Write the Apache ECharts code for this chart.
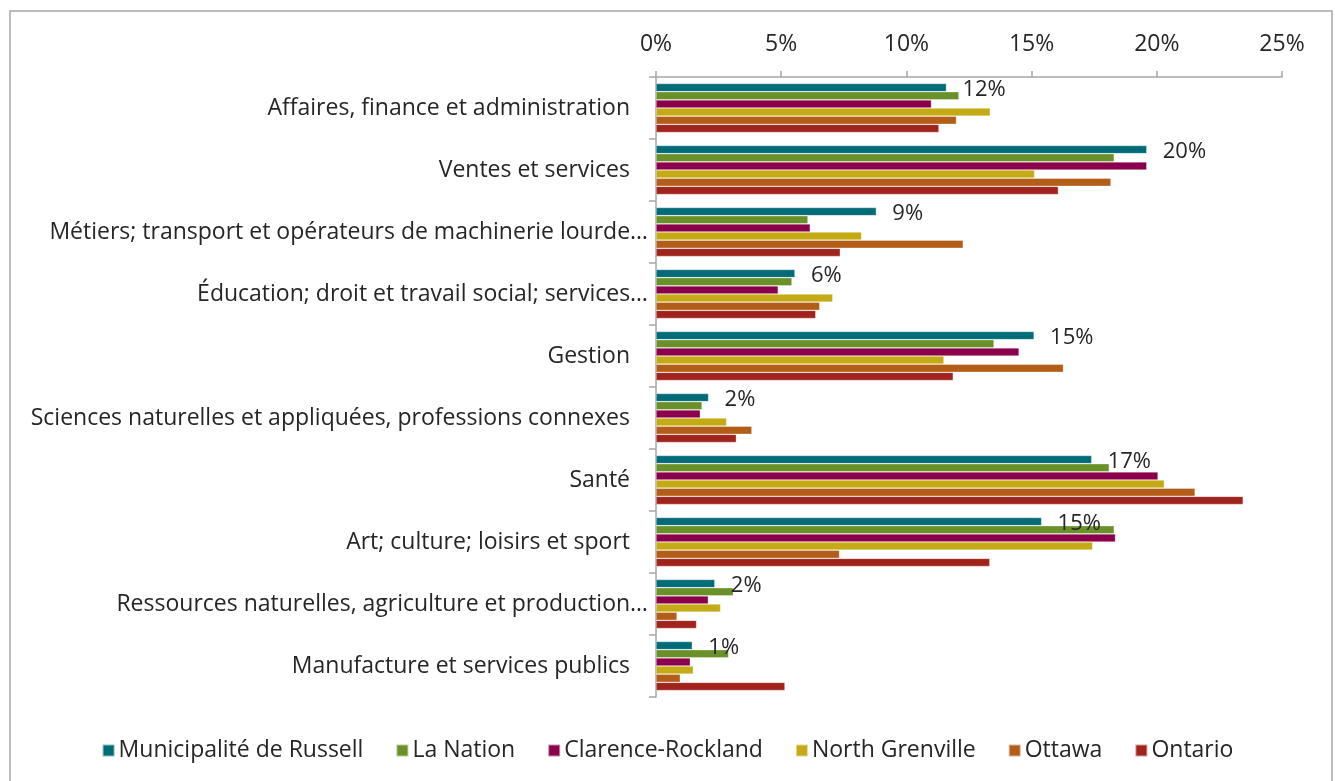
<!DOCTYPE html>
<html>
<head>
<meta charset="utf-8">
<script src="https://cdn.jsdelivr.net/npm/echarts@6/dist/echarts.min.js"></script>
<style>
  html, body { margin: 0; padding: 0; background: #fff; }
  #chart { width: 1335px; height: 781px; }
</style>
</head>
<body>
<div id="chart"></div>
<script>
// Occupational categories (top to bottom)
const categories = [
  'Affaires, finance et administration',
  'Ventes et services',
  'Métiers; transport et opérateurs de machinerie lourde…',
  'Éducation; droit et travail social; services…',
  'Gestion',
  'Sciences naturelles et appliquées, professions connexes',
  'Santé',
  'Art; culture; loisirs et sport',
  'Ressources naturelles, agriculture et production…',
  'Manufacture et services publics'
];

const seriesNames = ['Municipalité de Russell', 'La Nation', 'Clarence-Rockland', 'North Grenville', 'Ottawa', 'Ontario'];

// Share of employed workforce by occupation (%)
const russell   = [11.6, 19.6, 8.8, 5.55, 15.1, 2.1, 17.4, 15.4, 2.35, 1.45];
const laNation  = [12.1, 18.3, 6.07, 5.43, 13.5, 1.84, 18.1, 18.3, 3.09, 2.9];
const clarence  = [11.0, 19.6, 6.16, 4.88, 14.5, 1.77, 20.05, 18.35, 2.09, 1.37];
const grenville = [13.35, 15.12, 8.21, 7.06, 11.5, 2.82, 20.3, 17.44, 2.58, 1.49];
const ottawa    = [12.0, 18.17, 12.27, 6.54, 16.27, 3.83, 21.53, 7.33, 0.84, 0.97];
const ontario   = [11.3, 16.07, 7.36, 6.38, 11.87, 3.21, 23.45, 13.33, 1.62, 5.15];

const xTicks = { min: 0, max: 25, interval: 5 };

const colors = ['#006C78', '#6A902A', '#8A004A', '#C4AA14', '#B35E18', '#A0241C'];
const FONT = '"Open Sans", "Noto Sans", sans-serif';
const TEXT = '#262626';
const SIZE = 23;

const values = [russell, laNation, clarence, grenville, ottawa, ontario];

const chart = echarts.init(document.getElementById('chart'));

const series = values.map((arr, i) => ({
  name: seriesNames[i],
  type: 'bar',
  data: arr,
  barGap: '0%',
  barCategoryGap: '21%',
  itemStyle: { color: colors[i], borderColor: 'rgba(255,255,255,0.55)', borderWidth: 0.6 },
  label: i === 0 ? {
    show: true,
    position: 'right',
    distance: 16,
    offset: [0, 2],
    formatter: p => Math.round(p.value) + '%',
    fontFamily: FONT,
    fontSize: 22,
    color: TEXT
  } : { show: false },
  emphasis: { disabled: true },
  animation: false
}));

chart.setOption({
  animation: false,
  color: colors,
  textStyle: { fontFamily: FONT },
  graphic: [{
    type: 'rect',
    shape: { x: 10, y: 11, width: 1322, height: 780 },
    style: { fill: 'none', stroke: '#a6a6a6', lineWidth: 1.5 },
    silent: true
  }],
  grid: { left: 656, top: 77, right: 53, bottom: 84, containLabel: false },
  xAxis: {
    type: 'value',
    position: 'top',
    min: xTicks.min,
    max: xTicks.max,
    interval: xTicks.interval,
    axisLine: { show: true, lineStyle: { color: '#a6a6a6', width: 1.5 } },
    axisTick: { show: true, length: 6, lineStyle: { color: '#a6a6a6', width: 1.5 } },
    splitLine: { show: false },
    axisLabel: {
      formatter: '{value}%',
      fontFamily: FONT,
      fontSize: SIZE,
      color: TEXT,
      margin: 21
    }
  },
  yAxis: {
    type: 'category',
    data: categories,
    inverse: true,
    axisLine: { show: true, lineStyle: { color: '#a6a6a6', width: 1.5 } },
    axisTick: { show: true, length: 7, lineStyle: { color: '#a6a6a6', width: 1.5 } },
    axisLabel: {
      margin: 8,
      fontFamily: FONT,
      fontSize: SIZE,
      color: TEXT,
      formatter: v => v.endsWith('…') ? '{t|' + v + '}' : '{n|' + v + '}',
      rich: {
        n: { fontFamily: FONT, fontSize: SIZE, color: TEXT, padding: [0, 18, 0, 0] },
        t: { fontFamily: FONT, fontSize: SIZE, color: TEXT, padding: [0, 0, 0, 0] }
      }
    }
  },
  legend: {
    bottom: 14,
    left: 'center',
    icon: 'rect',
    itemWidth: 12,
    itemHeight: 12,
    itemGap: 32,
    textStyle: { fontFamily: FONT, fontSize: SIZE, color: TEXT, padding: [0, 0, 0, -1] },
    data: seriesNames
  },
  series: series
});
</script>
</body>
</html>
